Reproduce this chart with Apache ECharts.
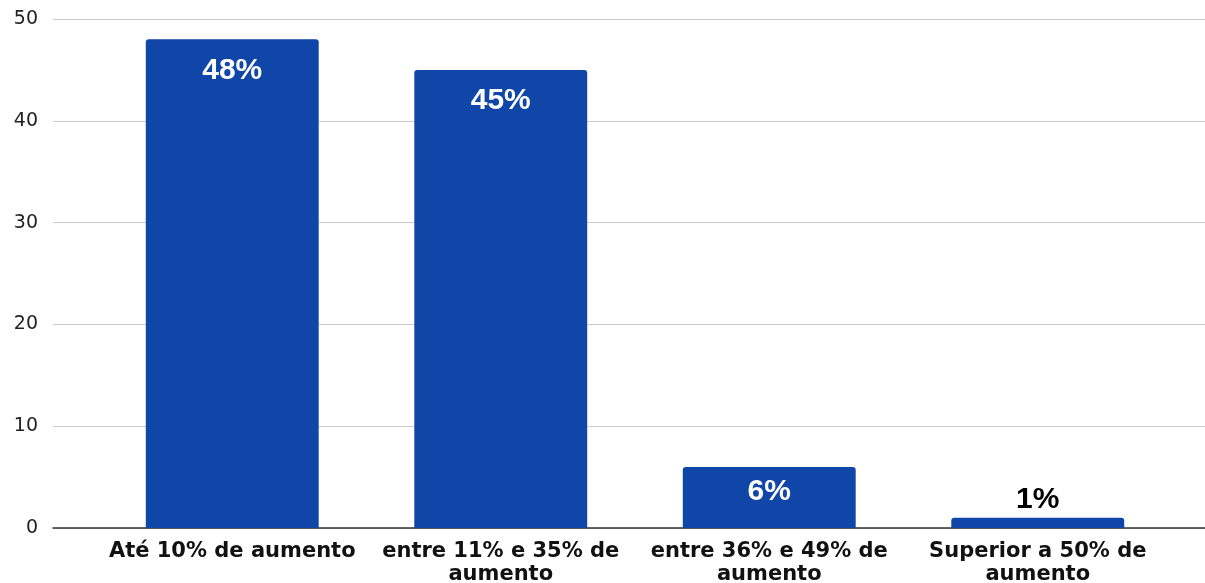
<!DOCTYPE html>
<html>
<head>
<meta charset="utf-8">
<script src="https://cdn.jsdelivr.net/npm/echarts@6/dist/echarts.min.js"></script>
<style>
html,body{margin:0;padding:0;background:#fff;}
#c{width:1205px;height:583px;}
</style>
</head>
<body>
<div id="c"></div>
<script>
const categories = ["Até 10% de aumento", "entre 11% e 35% de\naumento", "entre 36% e 49% de\naumento", "Superior a 50% de\naumento"];
const values = [48, 45, 6, 1];
const yTicks = [0, 10, 20, 30, 40, 50];

const FONT = "Liberation Sans, Arial, Helvetica, sans-serif";
const WIDE = "DejaVu Sans, Verdana, sans-serif";
const chart = echarts.init(document.getElementById('c'));
const data = values.map((v, i) => {
  if (v < 3) {
    return { value: v, label: { position: 'top', distance: 3, color: '#000' } };
  }
  if (v < 10) {
    return { value: v, label: { distance: 10 } };
  }
  return v;
});
chart.setOption({
  animation: false,
  grid: [
    { left: 53, right: 0, top: 19, bottom: 55, containLabel: false, outerBoundsMode: 'none' },
    { left: 98, right: 33, top: 19, bottom: 55, containLabel: false, outerBoundsMode: 'none' }
  ],
  xAxis: [
    { gridIndex: 0, type: 'category', data: [''], axisLine: { show: true, lineStyle: { color: '#333', width: 1.5 } }, axisTick: { show: false }, axisLabel: { show: false } },
    { gridIndex: 1, type: 'category', data: categories, axisLine: { show: false }, axisTick: { show: false },
      axisLabel: { margin: 12, fontFamily: WIDE, fontSize: 21, fontWeight: 'bold', color: '#111', lineHeight: 23, interval: 0 } }
  ],
  yAxis: [
    { gridIndex: 0, type: 'value', min: yTicks[0], max: yTicks[yTicks.length - 1], interval: 10,
      axisLine: { show: false }, axisTick: { show: false },
      axisLabel: { margin: 15, fontFamily: WIDE, fontSize: 19, color: '#222' },
      splitLine: { lineStyle: { color: '#cccccc', width: 1 } } },
    { gridIndex: 1, type: 'value', min: yTicks[0], max: yTicks[yTicks.length - 1], interval: 10, show: false }
  ],
  series: [{
    type: 'bar', xAxisIndex: 1, yAxisIndex: 1,
    data: data,
    barWidth: '64.4%',
    itemStyle: { color: '#1046a8', borderRadius: [3, 3, 0, 0], borderWidth: 0 },
    label: { show: true, position: 'insideTop', distance: 16, formatter: '{c}%',
      fontFamily: FONT, fontSize: 30, fontWeight: 'bold', color: '#fff' }
  }]
});
</script>
</body>
</html>
